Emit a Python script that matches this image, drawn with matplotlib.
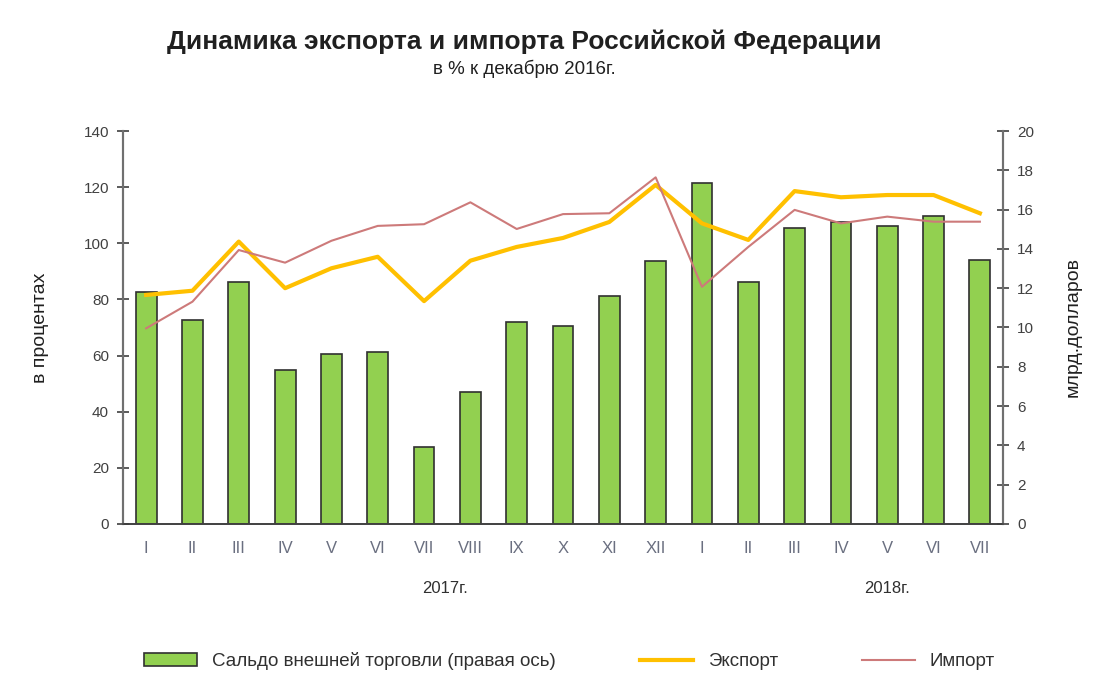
import matplotlib
matplotlib.use("Agg")
import matplotlib.pyplot as plt
from matplotlib.patches import Patch
from matplotlib.lines import Line2D

plt.rcParams['font.family'] = ['Liberation Sans', 'DejaVu Sans']

months = ["I", "II", "III", "IV", "V", "VI", "VII", "VIII", "IX", "X", "XI", "XII",
          "I", "II", "III", "IV", "V", "VI", "VII"]
saldo = [11.8, 10.4, 12.3, 7.85, 8.65, 8.75, 3.9, 6.73, 10.3, 10.1, 11.6, 13.4,
         17.35, 12.3, 15.08, 15.37, 15.17, 15.67, 13.43]
export = [81.6, 83.1, 100.6, 84.0, 91.1, 95.2, 79.4, 93.8, 98.7, 101.9, 107.6, 120.8,
          107.1, 101.2, 118.6, 116.4, 117.2, 117.2, 110.7]
imports = [69.7, 79.2, 97.6, 93.1, 100.9, 106.2, 106.8, 114.6, 105.1, 110.4, 110.7, 123.5,
           84.5, 98.7, 111.9, 107.1, 109.5, 107.7, 107.7]
years = ["2017г.", "2018г."]

fig = plt.figure(figsize=(11.02, 6.86), dpi=100)
ax = fig.add_axes([0.1116, 0.2362, 0.7986, 0.5728])
ax2 = ax.twinx()

x = list(range(len(months)))
ax2.bar(x, saldo, width=0.45, color='#92D050', edgecolor='#303030', linewidth=1.2, zorder=1)
ax.plot(x, export, color='#FFC000', linewidth=3, zorder=3)
ax.plot(x, imports, color='#CD7A7A', linewidth=1.5, zorder=3)

ax.set_zorder(ax2.get_zorder() + 1)
ax.patch.set_visible(False)

ax.set_xlim(-0.5, len(months) - 0.5)
ax.set_ylim(0, 140)
ax.set_yticks(range(0, 141, 20))
ax2.set_ylim(0, 20)
ax2.set_yticks(range(0, 21, 2))
ax.set_xticks(x)
ax.set_xticklabels(months)

for a in (ax, ax2):
    a.spines['top'].set_visible(False)
    a.spines['left'].set_color('#707070')
    a.spines['right'].set_color('#707070')
    a.spines['bottom'].set_color('#404040')
    a.spines['left'].set_linewidth(1.5)
    a.spines['right'].set_linewidth(1.5)
    a.spines['bottom'].set_linewidth(1.2)
ax.tick_params(axis='y', direction='inout', length=8, width=1.2, color='#404040',
               labelsize=11, labelcolor='#404040', pad=6)
ax2.tick_params(axis='y', direction='inout', length=8, width=1.2, color='#404040',
                labelsize=11, labelcolor='#404040', pad=6)
ax.tick_params(axis='x', length=0, labelsize=12, labelcolor='#6a6f80', pad=12)

ax.set_ylabel("в процентах", fontsize=14, color='#202020', labelpad=25)
ax2.set_ylabel("млрд.долларов", fontsize=14, color='#202020', labelpad=22, rotation=90)

ax.text(6.45, -23, years[0], transform=ax.transData, ha='center', va='center',
        fontsize=12, color='#303030', clip_on=False)
ax.text(16.0, -23, years[1], transform=ax.transData, ha='center', va='center',
        fontsize=12, color='#303030', clip_on=False)

fig.text(0.476, 0.939, "Динамика экспорта и импорта Российской Федерации",
         ha='center', va='center', fontsize=19, fontweight='bold', color='#202020')
fig.text(0.476, 0.900, "в % к декабрю 2016г.", ha='center', va='center',
         fontsize=13.5, color='#202020')

handles = [Patch(facecolor='#92D050', edgecolor='#303030', linewidth=1.2),
           Line2D([0], [0], color='#FFC000', linewidth=3),
           Line2D([0], [0], color='#CD7A7A', linewidth=1.5)]
labels = ["Сальдо внешней торговли (правая ось)", "Экспорт", "Импорт"]
fig.legend(handles, labels, loc='center', bbox_to_anchor=(0.517, 0.036), ncol=3,
           frameon=False, fontsize=13.5, handlelength=2.8, columnspacing=4.5,
           handletextpad=0.8, handleheight=0.7, labelcolor='#303030')

fig.savefig("out.png", dpi=100)
